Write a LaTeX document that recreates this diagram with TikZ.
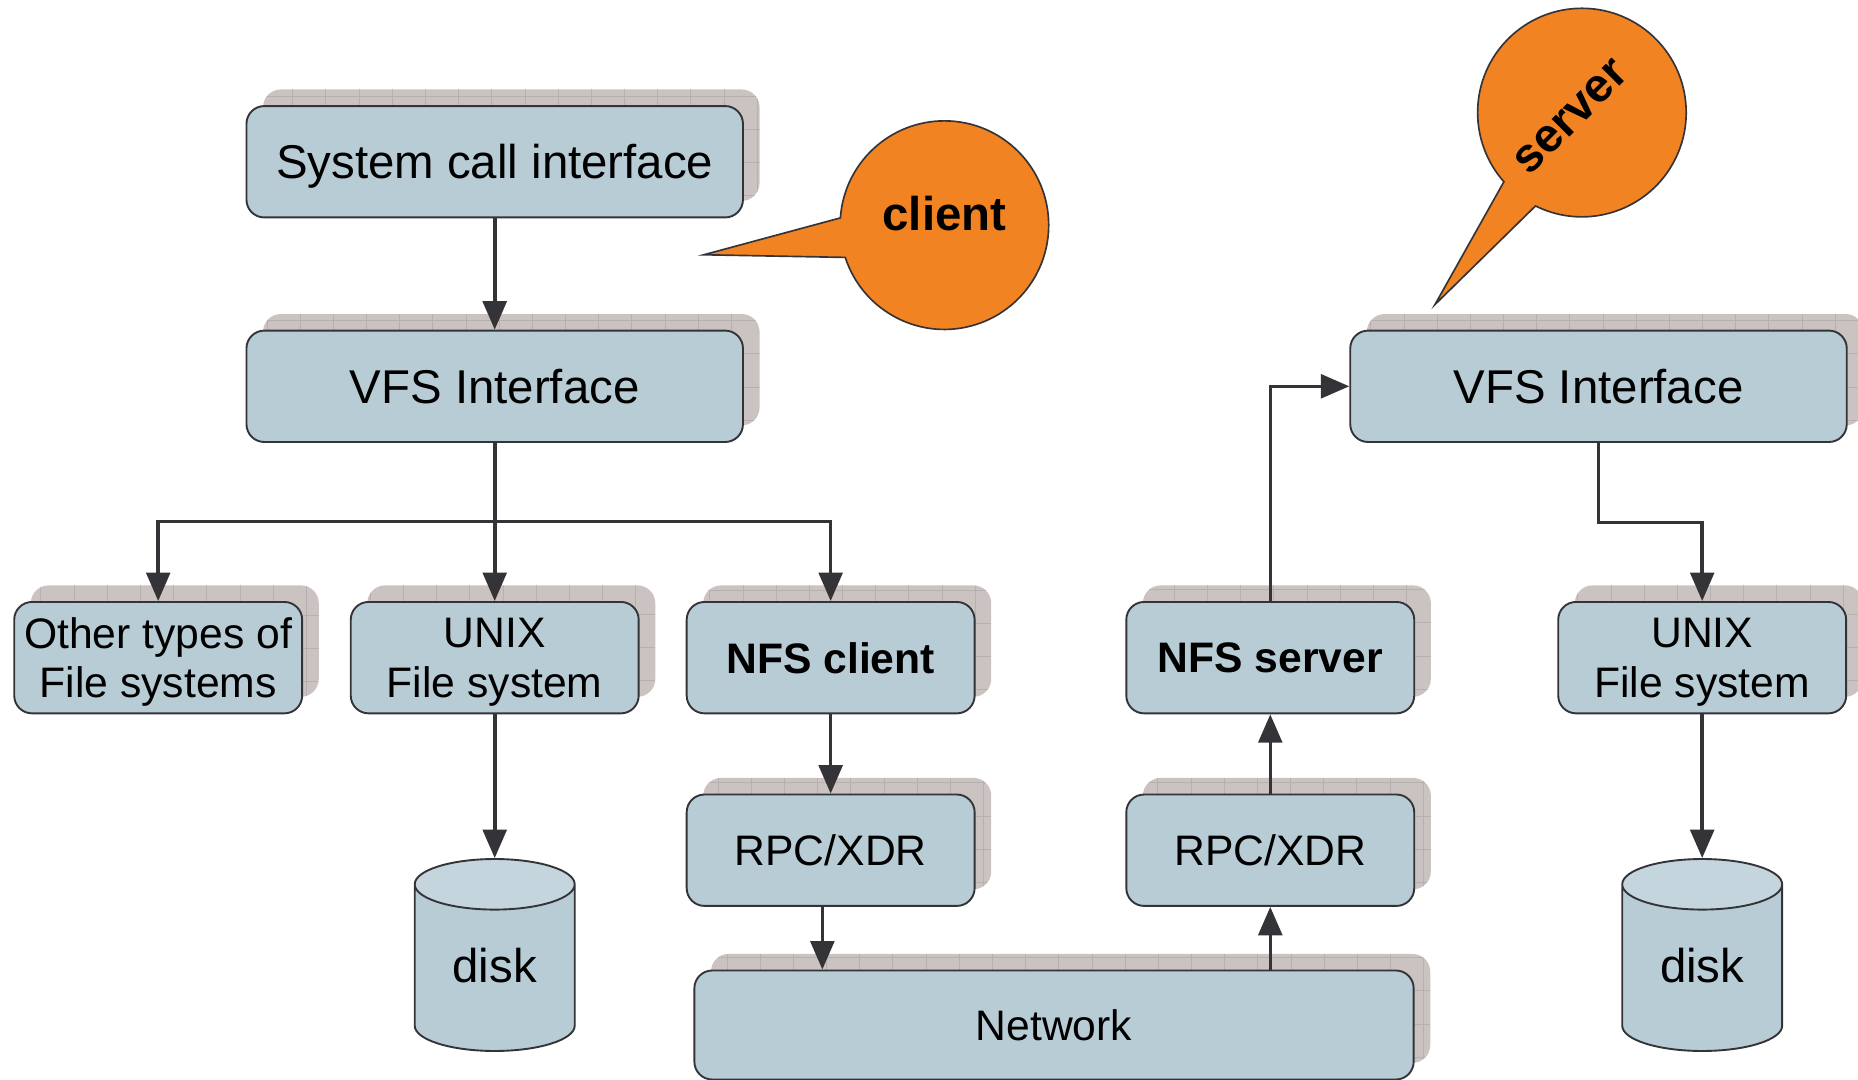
\documentclass[tikz,border=0pt]{standalone}
\usepackage{fontspec}
\setmainfont{Liberation Sans}
\usetikzlibrary{arrows.meta, positioning, shapes.geometric, shapes.callouts, shadows}

\definecolor{boxblue}{RGB}{184,204,213}
\definecolor{disktop}{RGB}{197,213,221}
\definecolor{shadowgrey}{RGB}{202,195,193}
\definecolor{gridgrey}{RGB}{184,176,174}
\definecolor{linegrey}{RGB}{52,52,56}
\definecolor{bubbleorange}{RGB}{242,131,34}

\tikzset{
  layer/.style={draw=linegrey, line width=1.6pt, fill=boxblue, rounded corners=15pt,
    minimum width=419pt, minimum height=94pt, inner sep=0pt, align=center,
    text depth=0pt, font=\fontsize{40}{46}\selectfont,
    copy shadow={shadow xshift=14pt, shadow yshift=14pt, fill=shadowgrey, draw=none,
      path picture={\draw[gridgrey, line width=0.6pt, xstep=28pt, ystep=28pt]
        (path picture bounding box.south west) grid (path picture bounding box.north east);}}},
  fsbox/.style={layer, minimum width=243pt, font=\fontsize{36}{42}\selectfont},
  nfsbox/.style={fsbox, font=\fontsize{36}{42}\selectfont\bfseries},
  disk/.style={cylinder, shape border rotate=90, aspect=0.6, draw=linegrey, line width=1.6pt,
    cylinder uses custom fill, cylinder body fill=boxblue, cylinder end fill=disktop,
    minimum width=135pt, minimum height=162pt, inner sep=0pt,
    text height=25pt, text depth=0pt, font=\fontsize{40}{46}\selectfont},
  bubble/.style={ellipse callout, draw=linegrey, line width=1.4pt, fill=bubbleorange,
    minimum size=176pt, inner sep=0pt, callout pointer arc=22,
    font=\fontsize{40}{46}\selectfont\bfseries},
  arr/.style={draw=linegrey, line width=3pt, -{Triangle[length=24pt, width=20pt]}},
  link/.style={draw=linegrey, line width=3pt},
}

\begin{document}
\begin{tikzpicture}[x=1pt, y=-1pt]
  \useasboundingbox (0,0) rectangle (1568,911);

  % client side
  \node[layer] (syscall) at (417.5,136.5) {System call interface};
  \node[layer] (vfsc) at (417.5,326) {VFS Interface};
  \node[fsbox] (otherfs) at (133.5,555) {Other types of\\File systems};
  \node[fsbox] (unixc) at (417.5,555) {UNIX\\File system};
  \node[nfsbox] (nfsc) at (701,555) {NFS client};
  \node[fsbox] (rpcc) at (701,717.5) {RPC/XDR};
  \node[disk] (diskc) at (417.5,817) {disk};

  % network
  \node[layer, minimum width=607pt, minimum height=92pt, font=\fontsize{36}{42}\selectfont] (net) at (889.5,865) {Network};

  % server side
  \node[nfsbox] (nfss) at (1072,555) {NFS server};
  \node[fsbox] (rpcs) at (1072,717.5) {RPC/XDR};
  \node[layer] (vfss) at (1349,326) {VFS Interface};
  \node[fsbox] (unixs) at (1436.5,555) {UNIX\\File system};
  \node[disk] (disks) at (1436.5,817) {disk};

  % callouts
  \coordinate (clienttip) at (594,215);
  \coordinate (servertip) at (1211,257);
  \node[bubble, callout absolute pointer=(clienttip), text depth=20pt] (client) at (797,190) {client};
  \node[bubble, callout absolute pointer=(servertip), text height=108pt] (server) at (1335,95) {\rotatebox{45}{server}\kern18pt};

  % connectors
  \coordinate (csplit) at (417.5,440);
  \draw[arr] (syscall) -- (vfsc);
  \draw[link] (vfsc.south) -- (csplit);
  \draw[arr] (csplit) -| (otherfs.north);
  \draw[arr] (csplit) -- (unixc.north);
  \draw[arr] (csplit) -| (nfsc.north);
  \draw[arr] (unixc) -- (diskc);
  \draw[arr] (nfsc) -- (rpcc);
  \draw[arr] ([xshift=-7pt]rpcc.south) -- ([xshift=-7pt]rpcc.south |- net.north);
  \draw[arr] (rpcs.south |- net.north) -- (rpcs.south);
  \draw[arr] (rpcs) -- (nfss);
  \draw[arr] (nfss.north) |- (vfss.west);
  \draw[arr] (vfss.south) -- ++(0,67) -| (unixs.north);
  \draw[arr] (unixs) -- (disks);
\end{tikzpicture}
\end{document}
